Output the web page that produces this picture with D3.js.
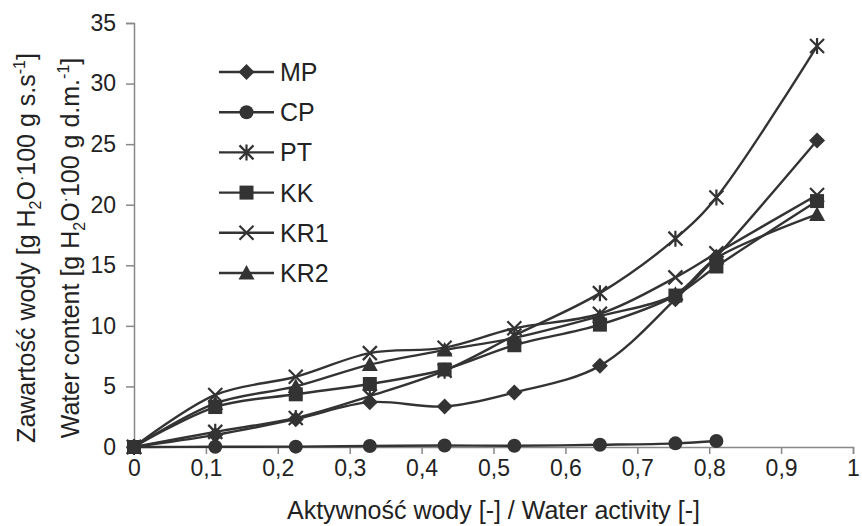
<!DOCTYPE html>
<html>
<head>
<meta charset="utf-8">
<script src="https://cdn.jsdelivr.net/npm/d3@7"></script>
<style>
  body { margin: 0; background: #fff; }
  text { font-family: "Liberation Sans", Arial, sans-serif; fill: #222; }
</style>
</head>
<body>
<div id="dataviz"></div>
<script>
// water activity of the salt solutions
const aw = [0, 0.113, 0.225, 0.328, 0.432, 0.529, 0.648, 0.753, 0.81, 0.95];

const seriesNames = ["MP", "CP", "PT", "KK", "KR1", "KR2"];
const MP  = [0, 1.0, 2.3, 3.7, 3.35, 4.5, 6.7, 12.2, 15.7, 25.3];
const CP  = [0, 0.02, 0.03, 0.08, 0.12, 0.1, 0.18, 0.3, 0.5];
const PT  = [0, 1.25, 2.4, 4.2, 6.3, 9.2, 12.7, 17.2, 20.6, 33.1];
const KK  = [0, 3.3, 4.35, 5.2, 6.4, 8.4, 10.1, 12.5, 14.9, 20.3];
const KR1 = [0, 4.3, 5.8, 7.75, 8.2, 9.8, 11.0, 14.0, 16.0, 20.8];
const KR2 = [0, 3.6, 5.0, 6.8, 8.0, 9.0, 10.8, 12.6, 15.6, 19.2];

const xTicks = [0, 0.1, 0.2, 0.3, 0.4, 0.5, 0.6, 0.7, 0.8, 0.9, 1];
const yTicks = [0, 5, 10, 15, 20, 25, 30, 35];

const allValues = [MP, CP, PT, KK, KR1, KR2];
const markers = ["diamond", "circle", "star", "square", "cross", "triangle"];

const margin = {top: 23, right: 9, bottom: 79, left: 134},
    width = 862 - margin.left - margin.right,
    height = 526 - margin.top - margin.bottom;

let svg = d3.select("#dataviz")
            .append("svg")
            .attr("width", width + margin.left + margin.right)
            .attr("height", height + margin.top + margin.bottom)
        .append("g")
            .attr("transform", `translate(${margin.left}, ${margin.top})`);

const xScale = d3.scaleLinear().domain([0, 1]).range([0, width]);
const yScale = d3.scaleLinear().domain([0, 35]).range([height, 0]);

// axes
const yAxis = svg.append("g")
    .call(d3.axisLeft(yScale).tickValues(yTicks).tickSize(8).tickPadding(10));
const xAxis = svg.append("g")
    .attr("transform", `translate(0, ${height})`)
    .call(d3.axisBottom(xScale).tickValues(xTicks).tickSize(7).tickPadding(6)
        .tickFormat(d => String(d).replace(".", ",")));

[xAxis, yAxis].forEach(a => {
    a.select(".domain").attr("stroke", "#888").attr("stroke-width", 1.5);
    a.selectAll(".tick line").attr("stroke", "#888").attr("stroke-width", 1.5);
    a.selectAll(".tick text").style("font-size", "23px").attr("fill", "#222");
});

// marker shapes
function drawMarker(g, type, x, y) {
    const c = "#333";
    if (type === "diamond") {
        g.append("path").attr("d", `M${x},${y-8}L${x+8},${y}L${x},${y+8}L${x-8},${y}Z`).attr("fill", c);
    } else if (type === "circle") {
        g.append("circle").attr("cx", x).attr("cy", y).attr("r", 7).attr("fill", c);
    } else if (type === "square") {
        g.append("rect").attr("x", x - 7).attr("y", y - 7).attr("width", 14).attr("height", 14).attr("fill", c);
    } else if (type === "triangle") {
        g.append("path").attr("d", `M${x},${y-8}L${x+8},${y+6.5}L${x-8},${y+6.5}Z`).attr("fill", c);
    } else if (type === "cross") {
        g.append("path").attr("d", `M${x-7},${y-7}L${x+7},${y+7}M${x-7},${y+7}L${x+7},${y-7}`)
            .attr("stroke", c).attr("stroke-width", 2.2);
    } else if (type === "star") {
        g.append("path").attr("d", `M${x-7},${y-7}L${x+7},${y+7}M${x-7},${y+7}L${x+7},${y-7}M${x},${y-8}L${x},${y+8}`)
            .attr("stroke", c).attr("stroke-width", 2.2);
    }
}

const line = d3.line()
    .x((d, i) => xScale(aw[i]))
    .y(d => yScale(d))
    .curve(d3.curveCatmullRom.alpha(0.5));

allValues.forEach((vals, s) => {
    const g = svg.append("g");
    g.append("path")
        .datum(vals)
        .attr("d", line)
        .attr("fill", "none")
        .attr("stroke", "#333")
        .attr("stroke-width", 2.4);
    vals.forEach((v, i) => drawMarker(g, markers[s], xScale(aw[i]), yScale(v)));
});

// legend
const legend = svg.append("g").attr("transform", "translate(85, 49)");
seriesNames.forEach((name, i) => {
    const y = i * 40.2;
    legend.append("line").attr("x1", 0).attr("x2", 55).attr("y1", y).attr("y2", y)
        .attr("stroke", "#333").attr("stroke-width", 2.4);
    drawMarker(legend, markers[i], 27.5, y);
    legend.append("text").attr("x", 61).attr("y", y).attr("dy", "0.36em")
        .style("font-size", "25px").text(name);
});

// axis titles
svg.append("text")
    .attr("x", width / 2).attr("y", height + 72)
    .attr("text-anchor", "middle")
    .style("font-size", "25px")
    .text("Aktywność wody [-] / Water activity [-]");

function yTitle(x, first, unit) {
    const t = svg.append("text")
        .attr("transform", `translate(${x}, 225) rotate(-90)`)
        .attr("text-anchor", "middle")
        .style("font-size", "25px");
    t.append("tspan").text(first + " [g H");
    t.append("tspan").text("2").style("font-size", "16px").attr("dy", 6);
    t.append("tspan").text("O").attr("dy", -6);
    t.append("tspan").text("·").style("font-size", "16px").attr("dy", -8);
    t.append("tspan").text("100 g " + unit).attr("dy", 8);
    t.append("tspan").text("-1").style("font-size", "16px").attr("dy", -10);
    t.append("tspan").text("]").attr("dy", 10);
}
yTitle(-99, "Zawartość wody", "s.s");
yTitle(-55, "Water content", "d.m.");
</script>
</body>
</html>
